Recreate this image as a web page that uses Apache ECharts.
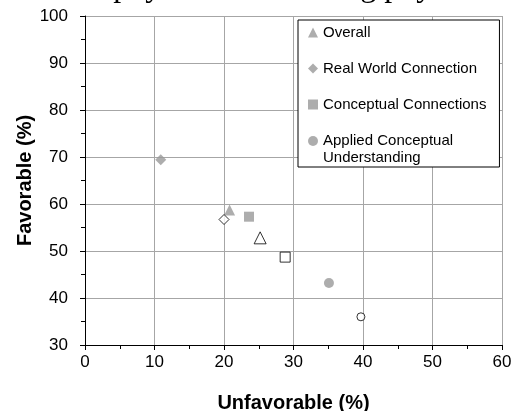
<!DOCTYPE html>
<html><head><meta charset="utf-8">
<script src="https://cdn.jsdelivr.net/npm/echarts@6/dist/echarts.min.js"></script>
<style>html,body{margin:0;padding:0;background:#fff}#c{width:513px;height:411px}</style>
</head><body><div id="c"></div>
<script>
// ---- data ----
const categories = ['Overall', 'Real World Connection', 'Conceptual Connections', 'Applied Conceptual Understanding'];
const legendLabels = ['Overall', 'Real World Connection', 'Conceptual Connections', 'Applied Conceptual\nUnderstanding'];
const symbols = ['triangle', 'diamond', 'rect', 'circle'];
const filledUnfavorable = [20.8, 10.9, 23.6, 35.1];
const filledFavorable   = [58.7, 69.4, 57.3, 43.2];
const hollowUnfavorable = [25.2, 20.0, 28.8, 39.7];
const hollowFavorable   = [52.8, 56.7, 48.7, 36.0];
const xMin = 0, xMax = 60, xStep = 10;
const yMin = 30, yMax = 100, yStep = 10;
const xName = 'Unfavorable (%)';
const yName = 'Favorable (%)';
const topText = 'e about physics and learning physics than sec';

// ---- styles ----
const FONT = '"Liberation Sans", Arial, sans-serif';
const GRAY = '#999999';
const filledSizes = [11, 11, 10, 10];
const hollowSizes = [12, 10, 10, 8];

const series = categories.map((name, i) => ({
  type: 'scatter',
  name: name,
  symbol: symbols[i],
  itemStyle: { color: GRAY },
  emphasis: { disabled: true },
  z: 3,
  data: [
    { value: [filledUnfavorable[i], filledFavorable[i]], symbolSize: filledSizes[i] },
    { value: [hollowUnfavorable[i], hollowFavorable[i]], symbolSize: hollowSizes[i],
      itemStyle: { color: '#ffffff', borderColor: '#000000', borderWidth: 1 } }
  ]
}));

const axisCommon = {
  type: 'value',
  nameLocation: 'middle',
  nameMoveOverlap: false,
  nameTextStyle: { fontFamily: FONT, fontSize: 20, fontWeight: 'bold', color: '#000' },
  axisLine: { show: true, lineStyle: { color: '#000', width: 1 } },
  axisTick: { show: true, length: 5, lineStyle: { color: '#000' } },
  minorTick: { show: true, splitNumber: 2, length: 4, lineStyle: { color: '#000' } },
  splitLine: { show: true, lineStyle: { color: '#a6a6a6', width: 1 } },
  axisLabel: { fontFamily: FONT, fontSize: 17, color: '#000' }
};

const labelMap = {};
categories.forEach((c, i) => labelMap[c] = legendLabels[i]);
const legendText = { fontFamily: FONT, fontSize: 15, color: '#000', lineHeight: 17 };

const option = {
  animation: false,
  backgroundColor: '#fff',
  grid: { left: 85, right: 11, top: 16, bottom: 66, containLabel: false, outerBoundsMode: 'none' },
  xAxis: Object.assign({}, axisCommon, {
    min: xMin, max: xMax, interval: xStep, name: xName, nameGap: 48,
    axisLabel: Object.assign({}, axisCommon.axisLabel, { margin: 9 })
  }),
  yAxis: Object.assign({}, axisCommon, {
    min: yMin, max: yMax, interval: yStep, name: yName, nameGap: 50,
    axisLabel: Object.assign({}, axisCommon.axisLabel, { margin: 17 })
  }),
  legend: [
    {
      data: categories.slice(0, 3),
      orient: 'vertical', left: 298, top: 20,
      padding: [4, 13, 54, 10], itemGap: 19,
      itemWidth: 10, itemHeight: 10,
      borderColor: '#000', borderWidth: 1, backgroundColor: '#fff',
      selectedMode: false, textStyle: legendText,
      formatter: n => labelMap[n]
    },
    {
      data: [categories[3]],
      orient: 'vertical', left: 308, top: 115.5,
      padding: 0, itemWidth: 10, itemHeight: 10, z: 6,
      selectedMode: false, textStyle: legendText,
      // leading blank line keeps the icon level with the first text line
      formatter: n => '\n' + labelMap[n]
    }
  ],
  graphic: [{
    type: 'text', left: 12, top: -28, silent: true,
    style: { text: topText, fontFamily: '"Liberation Serif", "Times New Roman", serif', fontSize: 32, fill: '#000' }
  }],
  series: series
};

const chart = echarts.init(document.getElementById('c'), null, { renderer: 'canvas' });
chart.setOption(option);
</script>
</body></html>
